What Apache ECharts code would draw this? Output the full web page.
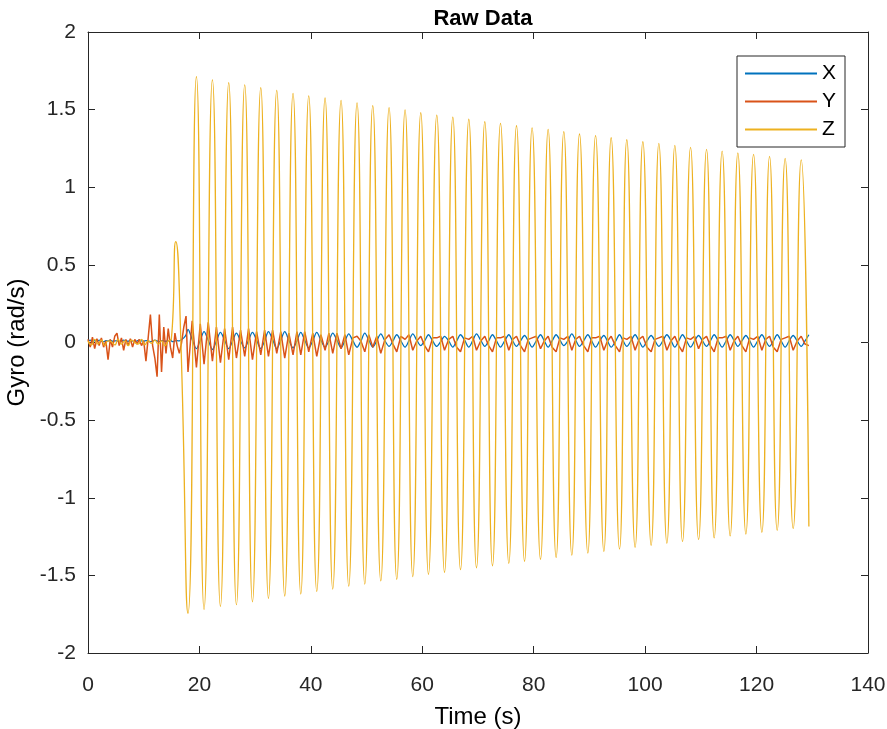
<!DOCTYPE html>
<html><head><meta charset="utf-8">
<script src="https://cdn.jsdelivr.net/npm/echarts@6/dist/echarts.min.js"></script>
<style>html,body{margin:0;padding:0;background:#fff}#c{width:887px;height:729px}</style>
</head><body><div id="c"></div>
<script>
// ---- data ----
const seriesNames = ['X', 'Y', 'Z'];
const xTicks = [0, 20, 40, 60, 80, 100, 120, 140];
const yTicks = [-2, -1.5, -1, -0.5, 0, 0.5, 1, 1.5, 2];

// X / Y gyro samples before the rotation starts
const tPre = [0,0.4,0.8,1.2,1.6,2.0,2.4,2.8,3.2,3.6,4.0,4.4,4.8,5.2,5.6,6.0,6.4,6.8,7.2,7.6,8.0,8.4,8.8,9.2,9.6,10.0,10.4,10.8,11.2,11.6,12.0,12.4,12.8,13.2,13.6,14.0,14.4,14.8,15.2,15.6,16.0,16.4,16.8,17.2,17.6];
const xPre = [0.01,0.015,0.005,0.012,0.008,0.015,0.01,0.005,0.012,0.01,0.015,0.008,0.01,0.012,0.005,0.01,0.015,0.01,0.008,0.012,0.01,0.005,0.01,0.015,0.01,0.008,0.012,0.01,0.005,0.01,0.015,0.01,0.005,0.012,0.01,0.008,0.01,0.015,0.005,0.01,0.012,0.01,0.02,0.03,0.05];
const yPre = [0.02,-0.03,0.035,-0.04,0.025,-0.02,0.03,-0.03,0.01,-0.11,0.02,-0.03,0.04,0.06,-0.02,0.03,-0.05,0.02,-0.02,0.025,-0.03,0.02,-0.01,0.02,-0.02,0.01,-0.12,0.03,0.18,-0.02,-0.1,-0.22,0.18,-0.19,0.10,-0.07,0.09,-0.03,-0.10,0.06,-0.02,-0.07,0.0,0.1,0.17];

// X / Y samples during rotation (quarter-period sample times)
const tPost = [17.95,18.70,19.46,20.15,20.83,21.58,22.33,23.05,23.77,24.52,25.26,25.95,26.64,27.38,28.13,28.82,29.52,30.26,31.01,31.70,32.39,33.13,33.88,34.60,35.31,36.05,36.80,37.50,38.19,38.90,39.62,40.34,41.06,41.80,42.55,43.24,43.93,44.68,45.42,46.11,46.80,47.55,48.29,48.98,49.68,50.40,51.11,51.83,52.55,53.30,54.04,54.73,55.42,56.16,56.91,57.60,58.29,59.01,59.73,60.42,61.11,61.86,62.60,63.30,63.99,64.74,65.48,66.17,66.86,67.60,68.35,69.04,69.73,70.48,71.22,71.91,72.60,73.32,74.04,74.78,75.53,76.22,76.91,77.63,78.35,79.03,79.71,80.46,81.22,81.90,82.59,83.30,84.02,84.71,85.40,86.12,86.84,87.53,88.22,88.96,89.71,90.40,91.10,91.84,92.59,93.24,93.90,94.65,95.40,96.05,96.71,97.45,98.20,98.90,99.59,100.33,101.08,101.77,102.46,103.18,103.90,104.61,105.33,106.02,106.71,107.43,108.15,108.87,109.59,110.30,111.02,111.70,112.39,113.10,113.82,114.54,115.26,115.95,116.64,117.36,118.08,118.77,119.46,120.20,120.95,121.64,122.33,123.01,123.70,124.41,125.13,125.85,126.57,127.29,128.01,128.70,129.39];
const xPost = [
 0.085,0.02,-0.04,0.015, 0.07,0.015,-0.045,0.01, 0.065,0.015,-0.04,0.01, 0.06,0.01,-0.035,0.015,
 0.065,0.015,-0.04,0.01, 0.07,0.02,-0.04,0.015, 0.07,0.015,-0.035,0.01, 0.065,0.015,-0.035,0.01,
 0.065,0.015,-0.03,0.01, 0.06,0.015,-0.035,0.01, 0.055,0.01,-0.03,0.01, 0.06,0.015,-0.03,0.01,
 0.055,0.01,-0.025,0.01, 0.05,0.01,-0.03,0.01, 0.055,0.015,-0.02,0.01, 0.05,0.01,-0.025,0.005,
 0.04,0.01,-0.03,0.01, 0.05,0.015,-0.03,0.01, 0.055,0.015,-0.025,0.01, 0.05,0.01,-0.03,0.01,
 0.05,0.01,-0.025,0.01, 0.045,0.01,-0.03,0.01, 0.05,0.01,-0.03,0.01, 0.05,0.015,-0.02,0.01,
 0.055,0.015,-0.025,0.01, 0.05,0.01,-0.03,0.01, 0.045,0.01,-0.03,0.005, 0.05,0.01,-0.025,0.01,
 0.05,0.01,-0.03,0.01, 0.045,0.01,-0.025,0.01, 0.05,0.015,-0.03,0.01, 0.05,0.01,-0.03,0.01,
 0.045,0.01,-0.025,0.01, 0.05,0.01,-0.03,0.01, 0.05,0.015,-0.025,0.01, 0.045,0.01,-0.03,0.01,
 0.05,0.01,-0.025,0.01, 0.05,0.01,-0.03,0.01, 0.045,0.01,-0.025,0.01,
 0.05];
const yPost = [
 -0.19,0.14,-0.16,0.12, -0.14,0.13,-0.12,0.10, -0.13,0.09,-0.11,0.10, -0.10,0.08,-0.09,0.09,
 -0.11,0.07,-0.08,0.08, -0.09,0.08,-0.07,0.07, -0.10,0.06,-0.08,0.07, -0.08,0.07,-0.06,0.06,
 -0.09,0.05,-0.05,0.06, -0.07,0.06,-0.04,0.05, -0.08,0.03,0.04,0.01, -0.06,0.05,-0.03,0.04,
 -0.07,0.02,0.05,-0.01, -0.06,0.04,0.02,0.05, -0.05,0.01,0.04,-0.02, -0.06,0.03,0.03,0.04,
 -0.05,0.02,0.04,-0.03, -0.06,0.03,0.02,0.04, -0.05,0.01,0.04,-0.02, -0.06,0.03,0.03,0.04,
 -0.05,0.02,0.04,-0.02, -0.06,0.02,0.03,0.04, -0.04,0.01,0.04,-0.03, -0.06,0.03,0.02,0.04,
 -0.05,0.02,0.04,-0.02, -0.06,0.03,0.03,0.04, -0.05,0.01,0.04,-0.02, -0.06,0.03,0.02,0.04,
 -0.05,0.02,0.04,-0.03, -0.06,0.02,0.03,0.04, -0.05,0.01,0.04,-0.02, -0.06,0.03,0.02,0.04,
 -0.04,0.02,0.04,-0.02, -0.06,0.03,0.03,0.04, -0.05,0.01,0.04,-0.02, -0.06,0.03,0.02,0.04,
 -0.05,0.02,0.04,-0.03, -0.06,0.02,0.03,0.04, -0.05,0.01,0.04,-0.01,
 -0.02];

// Z: quiet start and the small bump before rotation
const zPreTime = [0,0.6,1.2,1.8,2.4,3.0,3.6,4.2,4.8,5.4,6.0,6.6,7.2,7.8,8.4,9.0,9.6,10.2,10.8,11.4,12.0,12.6,13.2,13.8,14.4,14.95,15.75,16.65];
const zPreVal  = [0.01,-0.015,0.02,-0.01,0.015,-0.02,0.01,0.005,-0.015,0.02,-0.01,0.01,-0.02,0.015,0.0,-0.01,0.02,-0.015,0.01,-0.005,0.015,-0.01,0.01,-0.02,0.01,0.02,0.65,0.03];
// Z: oscillation peaks and troughs
const zPeakTime = [19.46,22.33,25.26,28.13,31.01,33.88,36.80,39.62,42.55,45.42,48.29,51.11,54.04,56.91,59.73,62.60,65.48,68.35,71.22,74.04,76.91,79.71,82.59,85.40,88.22,91.10,93.90,96.71,99.59,102.46,105.33,108.15,111.02,113.82,116.64,119.46,122.33,125.13,128.01];
const zPeakVal  = [1.712,1.691,1.673,1.659,1.641,1.624,1.605,1.588,1.575,1.560,1.543,1.526,1.513,1.498,1.480,1.465,1.452,1.438,1.422,1.412,1.396,1.382,1.373,1.358,1.343,1.332,1.319,1.306,1.293,1.283,1.270,1.257,1.244,1.233,1.222,1.212,1.199,1.186,1.176];
const zTroughTime = [17.95,20.83,23.77,26.64,29.52,32.39,35.31,38.19,41.06,43.93,46.80,49.68,52.55,55.42,58.29,61.11,63.99,66.86,69.73,72.60,75.53,78.35,81.22,84.02,86.84,89.71,92.59,95.40,98.20,101.08,103.90,106.71,109.59,112.39,115.26,118.08,120.95,123.70,126.57,129.39];
const zTroughVal  = [-1.744,-1.719,-1.699,-1.689,-1.670,-1.648,-1.633,-1.620,-1.603,-1.588,-1.569,-1.556,-1.536,-1.525,-1.508,-1.493,-1.480,-1.463,-1.451,-1.438,-1.422,-1.409,-1.396,-1.384,-1.369,-1.356,-1.345,-1.330,-1.319,-1.306,-1.293,-1.283,-1.270,-1.259,-1.246,-1.234,-1.223,-1.210,-1.199,-1.185];

// ---- build series data ----
function zip(t, v) { const n = Math.min(t.length, v.length); const out = []; for (let i = 0; i < n; i++) out.push([t[i], v[i]]); return out; }
const xData = zip(tPre, xPre).concat(zip(tPost, xPost));
const yData = zip(tPre, yPre).concat(zip(tPost, yPost));
const zData = zip(zPreTime, zPreVal).concat(zip(zPeakTime, zPeakVal), zip(zTroughTime, zTroughVal)).sort((a, b) => a[0] - b[0]);

const FONT = "'Liberation Sans', Arial, sans-serif";
const AX = '#262626';
const chart = echarts.init(document.getElementById('c'), null, { renderer: 'canvas' });
const axisCommon = {
  axisLine: { show: true, onZero: false, lineStyle: { color: AX, width: 1 } },
  axisTick: { show: true, inside: true, length: 7, lineStyle: { color: AX } },
  splitLine: { show: false }
};
chart.setOption({
  animation: false,
  backgroundColor: '#fff',
  title: { text: 'Raw Data', left: 478, top: 3, textAlign: 'center',
    textStyle: { fontFamily: FONT, fontSize: 22, fontWeight: 'bold', color: '#000' } },
  grid: { left: 88, right: 19, top: 32, bottom: 76, containLabel: false, outerBoundsMode: 'none' },
  legend: {
    data: seriesNames, orient: 'vertical', left: 737, top: 56,
    icon: 'rect', itemWidth: 72, itemHeight: 2, itemGap: 7, padding: [7, 9, 7, 8],
    borderColor: AX, borderWidth: 1, backgroundColor: '#fff',
    textStyle: { fontFamily: FONT, fontSize: 21, color: '#000' }
  },
  xAxis: [
    Object.assign({ type: 'value', min: xTicks[0], max: xTicks[xTicks.length - 1], interval: 20, position: 'bottom',
      axisLabel: { color: AX, fontSize: 21, fontFamily: FONT, margin: 22 },
      name: 'Time (s)', nameLocation: 'middle', nameGap: 52,
      nameTextStyle: { fontFamily: FONT, fontSize: 24, color: '#000' } }, axisCommon),
    Object.assign({ type: 'value', min: xTicks[0], max: xTicks[xTicks.length - 1], interval: 20, position: 'top',
      axisLabel: { show: false } }, axisCommon)
  ],
  yAxis: [
    Object.assign({ type: 'value', min: yTicks[0], max: yTicks[yTicks.length - 1], interval: 0.5, position: 'left',
      axisLabel: { color: AX, fontSize: 21, fontFamily: FONT, margin: 12 },
      name: 'Gyro (rad/s)', nameLocation: 'middle', nameGap: 58,
      nameTextStyle: { fontFamily: FONT, fontSize: 24, color: '#000' } }, axisCommon),
    Object.assign({ type: 'value', min: yTicks[0], max: yTicks[yTicks.length - 1], interval: 0.5, position: 'right',
      axisLabel: { show: false } }, axisCommon)
  ],
  series: [
    { name: 'X', type: 'line', data: xData, symbol: 'none', smooth: 0.3,
      lineStyle: { color: '#0072BD', width: 1.3 }, itemStyle: { color: '#0072BD' } },
    { name: 'Y', type: 'line', data: yData, symbol: 'none',
      lineStyle: { color: '#D95319', width: 1.5 }, itemStyle: { color: '#D95319' } },
    { name: 'Z', type: 'line', data: zData, symbol: 'none', smooth: 0.6,
      lineStyle: { color: '#EDB120', width: 1.3 }, itemStyle: { color: '#EDB120' } }
  ]
});
</script>
</body></html>
